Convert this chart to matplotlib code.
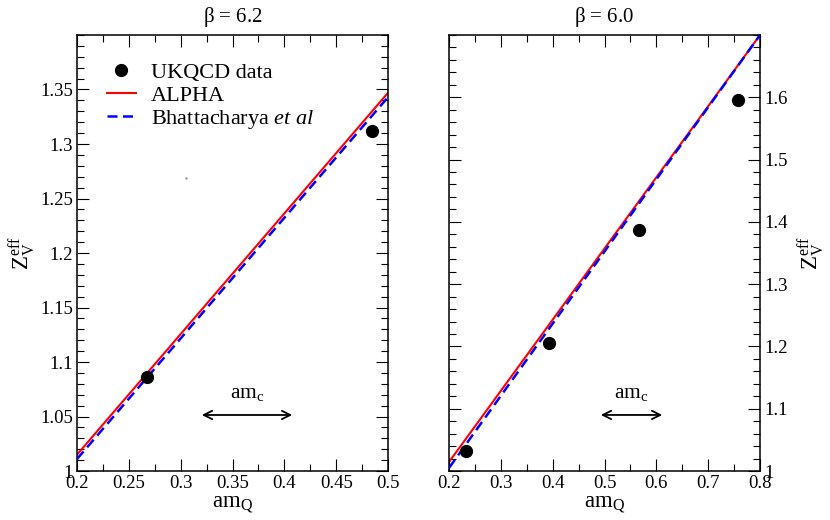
import matplotlib
matplotlib.use("Agg")
import matplotlib.pyplot as plt

plt.rcParams['font.family'] = ['Liberation Serif', 'DejaVu Serif']
plt.rcParams['mathtext.fontset'] = 'custom'
plt.rcParams['mathtext.rm'] = 'Liberation Serif'
plt.rcParams['mathtext.it'] = 'Liberation Serif:italic'

# beta = 6.2 panel
amq_62 = [0.2675, 0.4846]
zv_62 = [1.0862, 1.312]
line_x_62 = [0.2, 0.5]
alpha_62 = [1.015, 1.347]
bhatt_62 = [1.011, 1.343]

# beta = 6.0 panel
amq_60 = [0.2334, 0.392, 0.5666, 0.7575]
zv_60 = [1.032, 1.2055, 1.387, 1.5957]
line_x_60 = [0.2, 0.8]
alpha_60 = [1.0145, 1.700]
bhatt_60 = [1.005, 1.700]

# am_c arrows
arrow_62 = [0.3177, 0.4103, 1.0514]
arrow_60 = [0.4875, 0.6167, 1.090]

fig = plt.figure(figsize=(8.3, 5.2), dpi=100)
ax1 = fig.add_axes([0.0928, 0.0942, 0.3747, 0.8385])
ax2 = fig.add_axes([0.541, 0.0942, 0.3747, 0.8385])

def estilo(ax, xmaj, xmin, ymaj, ymin):
    ax.xaxis.set_major_locator(plt.MultipleLocator(xmaj))
    ax.xaxis.set_minor_locator(plt.MultipleLocator(xmin))
    ax.yaxis.set_major_locator(plt.MultipleLocator(ymaj))
    ax.yaxis.set_minor_locator(plt.MultipleLocator(ymin))
    ax.tick_params(which='both', direction='in', top=True, right=True,
                   labelsize=13.5, width=0.8)
    ax.tick_params(which='major', length=8.5, pad=3)
    ax.tick_params(which='minor', length=5)
    for s in ax.spines.values():
        s.set_linewidth(1.1)

def fmt(v, pos):
    return ('%g' % round(v, 3))

# left panel
ax1.plot(line_x_62, alpha_62, color='red', lw=1.5, label='ALPHA', zorder=2)
ax1.plot(line_x_62, bhatt_62, color='blue', lw=1.8, ls=(0, (4, 2.2)),
         label=r'Bhattacharya $\mathit{et\ al}$', zorder=3)
ax1.plot(amq_62, zv_62, 'o', color='black', ms=8.5, label='UKQCD data', zorder=4)
ax1.plot([0.305], [1.269], '.', color='gray', ms=1.2)
ax1.set_xlim(0.2, 0.5)
ax1.set_ylim(1.0, 1.4)
estilo(ax1, 0.05, 0.025, 0.05, 0.01)
ax1.xaxis.set_major_formatter(plt.FuncFormatter(fmt))
ax1.yaxis.set_major_formatter(plt.FuncFormatter(fmt))
ax1.set_yticks([1.0, 1.05, 1.1, 1.15, 1.2, 1.25, 1.3, 1.35])
ax1.set_title(r'$\mathrm{\beta}$ = 6.2', fontsize=15, pad=9)
ax1.set_xlabel(r'am$_\mathrm{Q}$', fontsize=16.5, labelpad=1)
ax1.set_ylabel(r'Z$_\mathrm{V}^\mathrm{eff}$', fontsize=16.5, labelpad=2)
ax1.annotate('', xy=(arrow_62[0], arrow_62[2]), xytext=(arrow_62[1], arrow_62[2]),
             arrowprops=dict(arrowstyle='<->', lw=1.3, color='black', mutation_scale=15))
ax1.text((arrow_62[0] + arrow_62[1]) / 2, arrow_62[2] + 0.011, r'am$_\mathrm{c}$',
         fontsize=15.5, ha='center', va='bottom')
h, l = ax1.get_legend_handles_labels()
ax1.legend([h[2], h[0], h[1]], [l[2], l[0], l[1]], loc='upper left',
           bbox_to_anchor=(0.06, 0.963), frameon=False, fontsize=16,
           handlelength=1.3, handletextpad=0.7, labelspacing=0.1, borderpad=0)

# right panel
ax2.plot(line_x_60, alpha_60, color='red', lw=1.5, zorder=2)
ax2.plot(line_x_60, bhatt_60, color='blue', lw=1.8, ls=(0, (4, 2.2)), zorder=3)
ax2.plot(amq_60, zv_60, 'o', color='black', ms=8.5, zorder=4)
ax2.set_xlim(0.2, 0.8)
ax2.set_ylim(1.0, 1.7)
estilo(ax2, 0.1, 0.05, 0.1, 0.02)
ax2.xaxis.set_major_formatter(plt.FuncFormatter(fmt))
ax2.yaxis.set_major_formatter(plt.FuncFormatter(fmt))
ax2.set_yticks([1.0, 1.1, 1.2, 1.3, 1.4, 1.5, 1.6])
ax2.yaxis.tick_right()
ax2.tick_params(which='both', left=True, direction='in')
ax2.yaxis.set_label_position('right')
ax2.set_title(r'$\mathrm{\beta}$ = 6.0', fontsize=15, pad=9)
ax2.set_xlabel(r'am$_\mathrm{Q}$', fontsize=16.5, labelpad=1)
ax2.set_ylabel(r'Z$_\mathrm{V}^\mathrm{eff}$', fontsize=16.5, labelpad=6, rotation=90)
ax2.annotate('', xy=(arrow_60[0], arrow_60[2]), xytext=(arrow_60[1], arrow_60[2]),
             arrowprops=dict(arrowstyle='<->', lw=1.3, color='black', mutation_scale=15))
ax2.text((arrow_60[0] + arrow_60[1]) / 2, arrow_60[2] + 0.019, r'am$_\mathrm{c}$',
         fontsize=15.5, ha='center', va='bottom')

fig.savefig('out.png', dpi=100)
